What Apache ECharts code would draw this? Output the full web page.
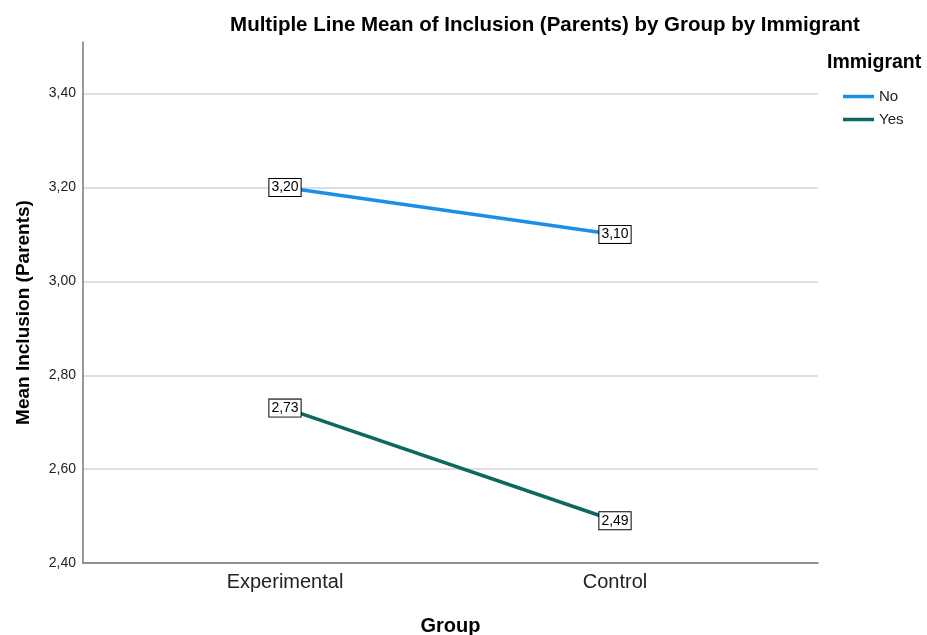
<!DOCTYPE html>
<html>
<head>
<meta charset="utf-8">
<script src="https://cdn.jsdelivr.net/npm/echarts@6/dist/echarts.min.js"></script>
<style>
html,body{margin:0;padding:0;background:#fff;}
#chart{width:927px;height:635px;}
</style>
</head>
<body>
<div id="chart"></div>
<script>
const categories = ['Experimental', 'Control'];
const seriesNames = ['No', 'Yes'];
const noValues = [3.20, 3.10];
const yesValues = [2.73, 2.49];
const yTicks = [2.40, 2.60, 2.80, 3.00, 3.20, 3.40];

const FONT = '"Liberation Sans", Arial, sans-serif';
const fmt = v => v.toFixed(2).replace('.', ',');

const chart = echarts.init(document.getElementById('chart'), null, {renderer: 'canvas'});

const labelStyle = {
  show: true,
  position: 'inside',
  formatter: p => fmt(p.value),
  fontFamily: FONT,
  fontSize: 14,
  color: '#000',
  backgroundColor: '#fff',
  borderColor: '#000',
  borderWidth: 1,
  padding: [2, 2, 1, 2]
};

const option = {
  animation: false,
  backgroundColor: '#fff',
  title: [{
    text: 'Multiple Line Mean of Inclusion (Parents) by Group by Immigrant',
    left: 540, top: 10, textAlign: 'center',
    textStyle: {fontFamily: FONT, fontSize: 20.5, fontWeight: 'bold', color: '#000'}
  }, {
    text: 'Immigrant',
    left: 822, top: 48,
    textStyle: {fontFamily: FONT, fontSize: 19.5, fontWeight: 'bold', color: '#000'}
  }],
  legend: {
    orient: 'vertical',
    left: 838, top: 84,
    itemWidth: 31, itemHeight: 3.5, itemGap: 8,
    icon: 'rect',
    data: seriesNames,
    textStyle: {fontFamily: FONT, fontSize: 15, color: '#222'}
  },
  grid: [
    {left: 83, right: 109, top: 42, bottom: 72, outerBoundsMode: 'none', containLabel: false},
    {left: 120, right: 147, top: 42, bottom: 72, outerBoundsMode: 'none', containLabel: false}
  ],
  xAxis: [{
    gridIndex: 0, type: 'category', data: categories, boundaryGap: true,
    axisLine: {lineStyle: {color: '#777', width: 1.5}},
    axisTick: {show: false}, axisLabel: {show: false}, splitLine: {show: false},
    name: 'Group', nameLocation: 'middle', nameGap: 53,
    nameTextStyle: {fontFamily: FONT, fontSize: 20, fontWeight: 'bold', color: '#000'}
  }, {
    gridIndex: 1, type: 'category', data: categories, boundaryGap: true,
    axisLine: {show: false}, axisTick: {show: false}, splitLine: {show: false},
    axisLabel: {fontFamily: FONT, fontSize: 20, color: '#222', margin: 9}
  }],
  yAxis: [{
    gridIndex: 0, type: 'value', min: 2.4, max: 3.51, interval: 0.2,
    axisLine: {show: true, lineStyle: {color: '#777', width: 1.5}},
    axisTick: {show: false},
    axisLabel: {fontFamily: FONT, fontSize: 14, color: '#222', margin: 7,
      formatter: v => yTicks.some(t => Math.abs(t - v) < 1e-9) ? fmt(v) : '', showMaxLabel: false},
    splitLine: {show: true, showMaxLine: false, lineStyle: {color: '#d4d4d4', width: 1.5}},
    name: 'Mean Inclusion (Parents)', nameLocation: 'middle', nameGap: 50,
    nameTextStyle: {fontFamily: FONT, fontSize: 19, fontWeight: 'bold', color: '#000', padding: [0, 0, 0, -20]}
  }, {
    gridIndex: 1, type: 'value', min: 2.4, max: 3.51, interval: 0.2, show: false,
    splitLine: {show: false}
  }],
  series: [{
    name: seriesNames[0], type: 'line', xAxisIndex: 1, yAxisIndex: 1,
    data: noValues, color: '#1a8fe6',
    lineStyle: {width: 3.5, color: '#1a8fe6'},
    symbol: 'circle', symbolSize: 2, itemStyle: {color: '#1a8fe6'},
    label: labelStyle, z: 5
  }, {
    name: seriesNames[1], type: 'line', xAxisIndex: 1, yAxisIndex: 1,
    data: yesValues, color: '#0e6762',
    lineStyle: {width: 3.5, color: '#0e6762'},
    symbol: 'circle', symbolSize: 2, itemStyle: {color: '#0e6762'},
    label: labelStyle, z: 5
  }]
};
chart.setOption(option);
</script>
</body>
</html>
